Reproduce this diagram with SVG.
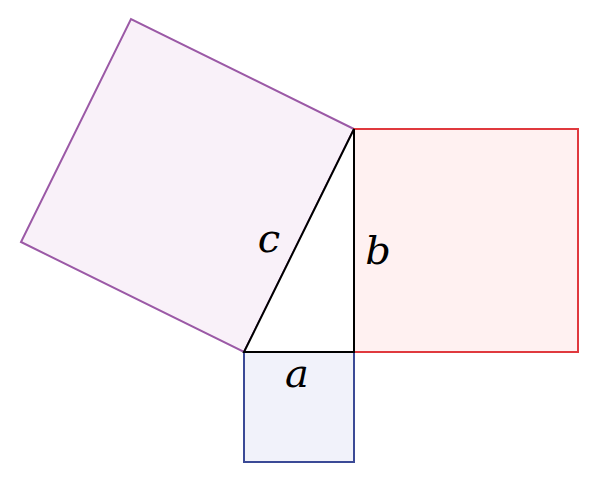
<svg xmlns="http://www.w3.org/2000/svg" width="595" height="480" viewBox="0 0 595 480">
<style>
text{font-family:"DejaVu Serif","Liberation Serif",serif;font-style:italic;font-size:40px;fill:#000}
.sq{stroke-width:2}
</style>
<rect width="595" height="480" fill="#fff"/>
<g id="square-c"><polygon class="sq" points="244,352 354,129 131,19 21,242" fill="#f9f1f9" stroke="#9b59a6"/></g>
<g id="square-b"><rect class="sq" x="354" y="129" width="224" height="223" fill="#fff1f1" stroke="#e0393e"/></g>
<g id="square-a"><rect class="sq" x="244" y="352" width="110" height="110" fill="#f1f2fa" stroke="#3b4a96"/></g>
<g id="triangle"><polygon points="244,352 354,352 354,129" fill="#fff" stroke="#000" stroke-width="2"/></g>
<g id="labels">
<text x="297" y="387" text-anchor="middle">a</text>
<text x="378" y="264" text-anchor="middle">b</text>
<text x="269" y="252" text-anchor="middle">c</text>
</g>
</svg>
